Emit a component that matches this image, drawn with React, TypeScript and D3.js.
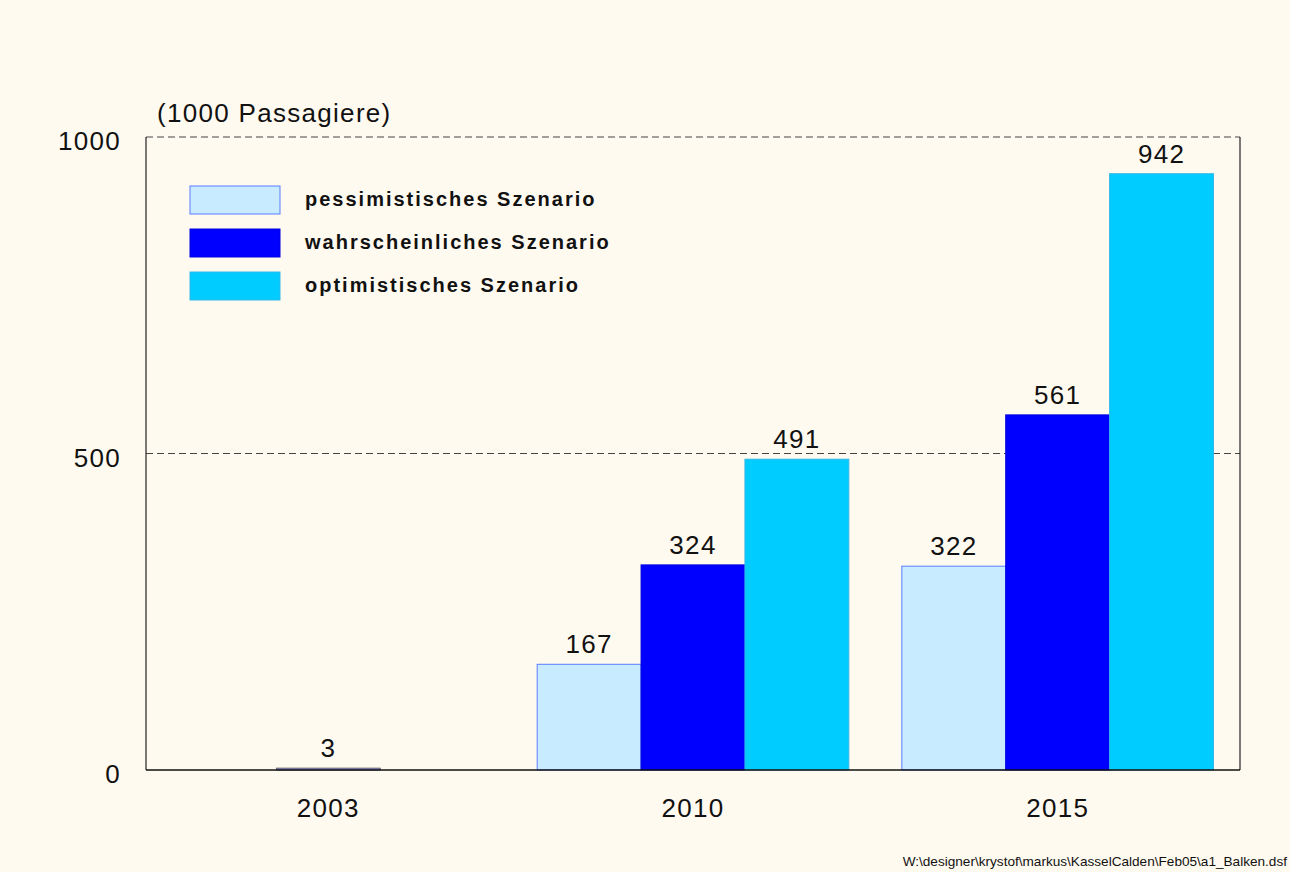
import * as d3 from "d3";
import React, { useRef, useEffect } from "react";

const years = ["2003", "2010", "2015"];
const seriesNames = ["pessimistisches Szenario", "wahrscheinliches Szenario", "optimistisches Szenario"];
const pessimistic = [null, 167, 322];
const likely = [3, 324, 561];
const optimistic = [null, 491, 942];
const yTicks = [0, 500, 1000];

const fills = ["#c9ebff", "#0000ff", "#00ccff"];
const strokes = ["#5a7dff", "#0000e0", "#33b8e8"];

const W = 1290;
const H = 872;

const App = () => {
  const ref = useRef<SVGSVGElement>(null);

  useEffect(() => {
    const svg = d3.select(ref.current);
    svg.selectAll("*").remove();
    const font = "'Liberation Sans', Arial, sans-serif";
    const big = 26;
    const spacing = 1.3;
    const margin = { top: 137, right: 50, bottom: 102, left: 146 };
    const width = W - margin.left - margin.right;
    const height = H - margin.top - margin.bottom;

    svg.append("rect").attr("width", W).attr("height", H).attr("fill", "#fffaf0");

    const g = svg.append("g").attr("transform", `translate(${margin.left},${margin.top})`);

    const x0 = d3.scaleBand().domain(years).range([0, width]);
    const x1 = d3.scaleBand().domain(seriesNames).range([26.5, x0.bandwidth() - 26.5]);
    const y = d3.scaleLinear().domain([0, 1000]).range([height, 0]);

    // dashed grid
    g.selectAll(".grid")
      .data(yTicks.filter(d => d > 0))
      .enter()
      .append("line")
      .attr("x1", 0)
      .attr("x2", width)
      .attr("y1", d => y(d))
      .attr("y2", d => y(d))
      .attr("stroke", "#444")
      .attr("stroke-width", 1)
      .attr("stroke-dasharray", "7,4");

    const series = [pessimistic, likely, optimistic];
    series.forEach((vals, si) => {
      const data = years
        .map((yr, i) => ({ yr, v: vals[i] }))
        .filter(d => d.v != null) as { yr: string; v: number }[];
      g.selectAll(".bar" + si)
        .data(data)
        .enter()
        .append("rect")
        .attr("x", d => x0(d.yr)! + x1(seriesNames[si])!)
        .attr("y", d => y(d.v))
        .attr("width", x1.bandwidth())
        .attr("height", d => Math.max(height - y(d.v), 2))
        .attr("fill", d => (d.v < 10 ? "#8c8ce6" : fills[si]))
        .attr("stroke", d => (d.v < 10 ? "#555" : strokes[si]))
        .attr("stroke-width", d => (d.v < 10 ? 0.8 : 1));
      g.selectAll(".lbl" + si)
        .data(data)
        .enter()
        .append("text")
        .attr("x", d => x0(d.yr)! + x1(seriesNames[si])! + x1.bandwidth() / 2)
        .attr("y", d => Math.min(y(d.v), height - 2) - 11)
        .attr("text-anchor", "middle")
        .attr("font-family", font)
        .attr("font-size", big)
        .attr("letter-spacing", spacing)
        .attr("fill", "#111")
        .text(d => d.v);
    });

    // frame
    g.append("line").attr("x1", 0).attr("x2", 0).attr("y1", 0).attr("y2", height).attr("stroke", "#222").attr("stroke-width", 1.2);
    g.append("line").attr("x1", width).attr("x2", width).attr("y1", 0).attr("y2", height).attr("stroke", "#222").attr("stroke-width", 1.2);
    g.append("line").attr("x1", 0).attr("x2", width).attr("y1", height).attr("y2", height).attr("stroke", "#111").attr("stroke-width", 1.5);

    // y tick labels
    g.selectAll(".ytick")
      .data(yTicks)
      .enter()
      .append("text")
      .attr("x", -25)
      .attr("y", d => y(d) + 13)
      .attr("text-anchor", "end")
      .attr("font-family", font)
      .attr("font-size", big)
      .attr("letter-spacing", spacing)
      .attr("fill", "#111")
      .text(d => d);

    // x labels
    g.selectAll(".xlbl")
      .data(years)
      .enter()
      .append("text")
      .attr("x", d => x0(d)! + x0.bandwidth() / 2)
      .attr("y", height + 47)
      .attr("text-anchor", "middle")
      .attr("font-family", font)
      .attr("font-size", big)
      .attr("letter-spacing", spacing)
      .attr("fill", "#111")
      .text(d => d);

    // unit
    svg.append("text")
      .attr("x", 157)
      .attr("y", 122)
      .attr("font-family", font)
      .attr("font-size", big)
      .attr("letter-spacing", spacing)
      .attr("fill", "#111")
      .text("(1000 Passagiere)");

    // legend
    const lg = svg.append("g").attr("transform", "translate(190,186)");
    seriesNames.forEach((name, i) => {
      lg.append("rect")
        .attr("x", 0)
        .attr("y", i * 43)
        .attr("width", 90)
        .attr("height", 28)
        .attr("fill", fills[i])
        .attr("stroke", strokes[i])
        .attr("stroke-width", 1);
      lg.append("text")
        .attr("x", 115)
        .attr("y", i * 43 + 20)
        .attr("font-family", font)
        .attr("font-size", 20)
        .attr("font-weight", "bold")
        .attr("letter-spacing", 2)
        .attr("fill", "#111")
        .text(name);
    });

    svg.append("text")
      .attr("x", 1287)
      .attr("y", 866)
      .attr("text-anchor", "end")
      .attr("font-family", font)
      .attr("font-size", 13.6)
      .attr("fill", "#111")
      .text("W:\\designer\\krystof\\markus\\KasselCalden\\Feb05\\a1_Balken.dsf");
  }, []);

  return (
    <svg ref={ref} width={W} height={H} style={{ position: "absolute", left: 0, top: 0 }} />
  );
};

export default App;
